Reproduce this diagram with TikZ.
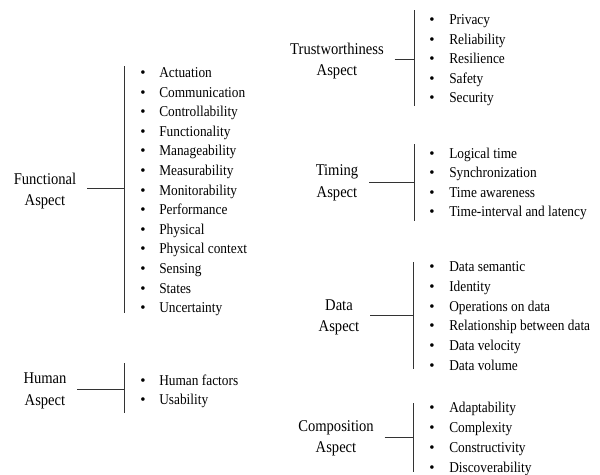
\documentclass[tikz,border=0pt]{standalone}
\usepackage{fontspec}
\setmainfont{Liberation Serif}
\usepackage{graphicx}
% slightly condensed text
\newcommand\narrowtext[1]{\scalebox{0.89}[1]{#1}}

\begin{document}
\begin{tikzpicture}[x=0.75pt,y=-0.75pt,
  every node/.style={font=\fontsize{11.25}{16}\selectfont, text=black},
  lbl/.style={align=center, inner xsep=8pt, inner ysep=0pt,
    font=\fontsize{12.3}{16.1}\selectfont},
  item/.style={anchor=base west, inner sep=0pt},
  dot/.style={anchor=base, inner sep=0pt},
  bar/.style={draw=black!80, line width=0.75pt}]
\useasboundingbox (0,0) rectangle (600,475);

% ---------------- Functional aspect ----------------
\node[lbl] (fun) at (45,191) {\narrowtext{Functional}\\\narrowtext{Aspect}};
\coordinate (funT) at (124,66);
\coordinate (funB) at (124,313);
\coordinate (funJ) at (124,188);
\draw[bar] (funT) -- (funB);
\draw[bar] (fun.east |- funJ) -- (funJ);
\foreach \t [count=\i] in {Actuation,Communication,Controllability,Functionality,
  Manageability,Measurability,Monitorability,Performance,Physical,
  Physical context,Sensing,States,Uncertainty}{
  \node[dot] (funb\i) at (143,{73+19.6*(\i-1)+4.5}) {•};
  \node[item] (funi\i) at (159,{73+19.6*(\i-1)+4.5}) {\narrowtext{\t}};
}

% ---------------- Human aspect ----------------
\node[lbl] (hum) at (45,391) {\narrowtext{Human}\\\narrowtext{Aspect}};
\coordinate (humT) at (124,363);
\coordinate (humB) at (124,413);
\coordinate (humJ) at (124,389);
\draw[bar] (humT) -- (humB);
\draw[bar] (hum.east |- humJ) -- (humJ);
\foreach \t [count=\i] in {Human factors,Usability}{
  \node[dot] (humb\i) at (143,{381+19*(\i-1)+4.5}) {•};
  \node[item] (humi\i) at (159,{381+19*(\i-1)+4.5}) {\narrowtext{\t}};
}

% ---------------- Trustworthiness aspect ----------------
\node[lbl] (tru) at (337,61) {\narrowtext{Trustworthiness}\\\narrowtext{Aspect}};
\coordinate (truT) at (414,10);
\coordinate (truB) at (414,106);
\coordinate (truJ) at (414,59);
\draw[bar] (truT) -- (truB);
\draw[bar] (tru.east |- truJ) -- (truJ);
\foreach \t [count=\i] in {Privacy,Reliability,Resilience,Safety,Security}{
  \node[dot] (trub\i) at (432,{20+19.5*(\i-1)+4.5}) {•};
  \node[item] (trui\i) at (449,{20+19.5*(\i-1)+4.5}) {\narrowtext{\t}};
}

% ---------------- Timing aspect ----------------
\node[lbl] (tim) at (337,183) {\narrowtext{Timing}\\\narrowtext{Aspect}};
\coordinate (timT) at (414,144);
\coordinate (timB) at (414,221);
\coordinate (timJ) at (414,182);
\draw[bar] (timT) -- (timB);
\draw[bar] (tim.east |- timJ) -- (timJ);
\foreach \t [count=\i] in {Logical time,Synchronization,Time awareness,
  Time-interval and latency}{
  \node[dot] (timb\i) at (432,{154+19.3*(\i-1)+4.5}) {•};
  \node[item] (timi\i) at (449,{154+19.3*(\i-1)+4.5}) {\narrowtext{\t}};
}

% ---------------- Data aspect ----------------
\node[lbl] (dat) at (339,317.5) {\narrowtext{Data}\\\narrowtext{Aspect}};
\coordinate (datT) at (413,262);
\coordinate (datB) at (413,369);
\coordinate (datJ) at (413,315);
\draw[bar] (datT) -- (datB);
\draw[bar] (dat.east |- datJ) -- (datJ);
\foreach \t [count=\i] in {Data semantic,Identity,Operations on data,
  Relationship between data,Data velocity,Data volume}{
  \node[dot] (datb\i) at (432,{267+19.8*(\i-1)+4.5}) {•};
  \node[item] (dati\i) at (449,{267+19.8*(\i-1)+4.5}) {\narrowtext{\t}};
}

% ---------------- Composition aspect ----------------
\node[lbl] (com) at (336,438.5) {\narrowtext{Composition}\\\narrowtext{Aspect}};
\coordinate (comT) at (413,403);
\coordinate (comB) at (413,472);
\coordinate (comJ) at (413,437);
\draw[bar] (comT) -- (comB);
\draw[bar] (com.east |- comJ) -- (comJ);
\foreach \t [count=\i] in {Adaptability,Complexity,Constructivity,Discoverability}{
  \node[dot] (comb\i) at (432,{408+20*(\i-1)+4.5}) {•};
  \node[item] (comi\i) at (449,{408+20*(\i-1)+4.5}) {\narrowtext{\t}};
}
\end{tikzpicture}
\end{document}
